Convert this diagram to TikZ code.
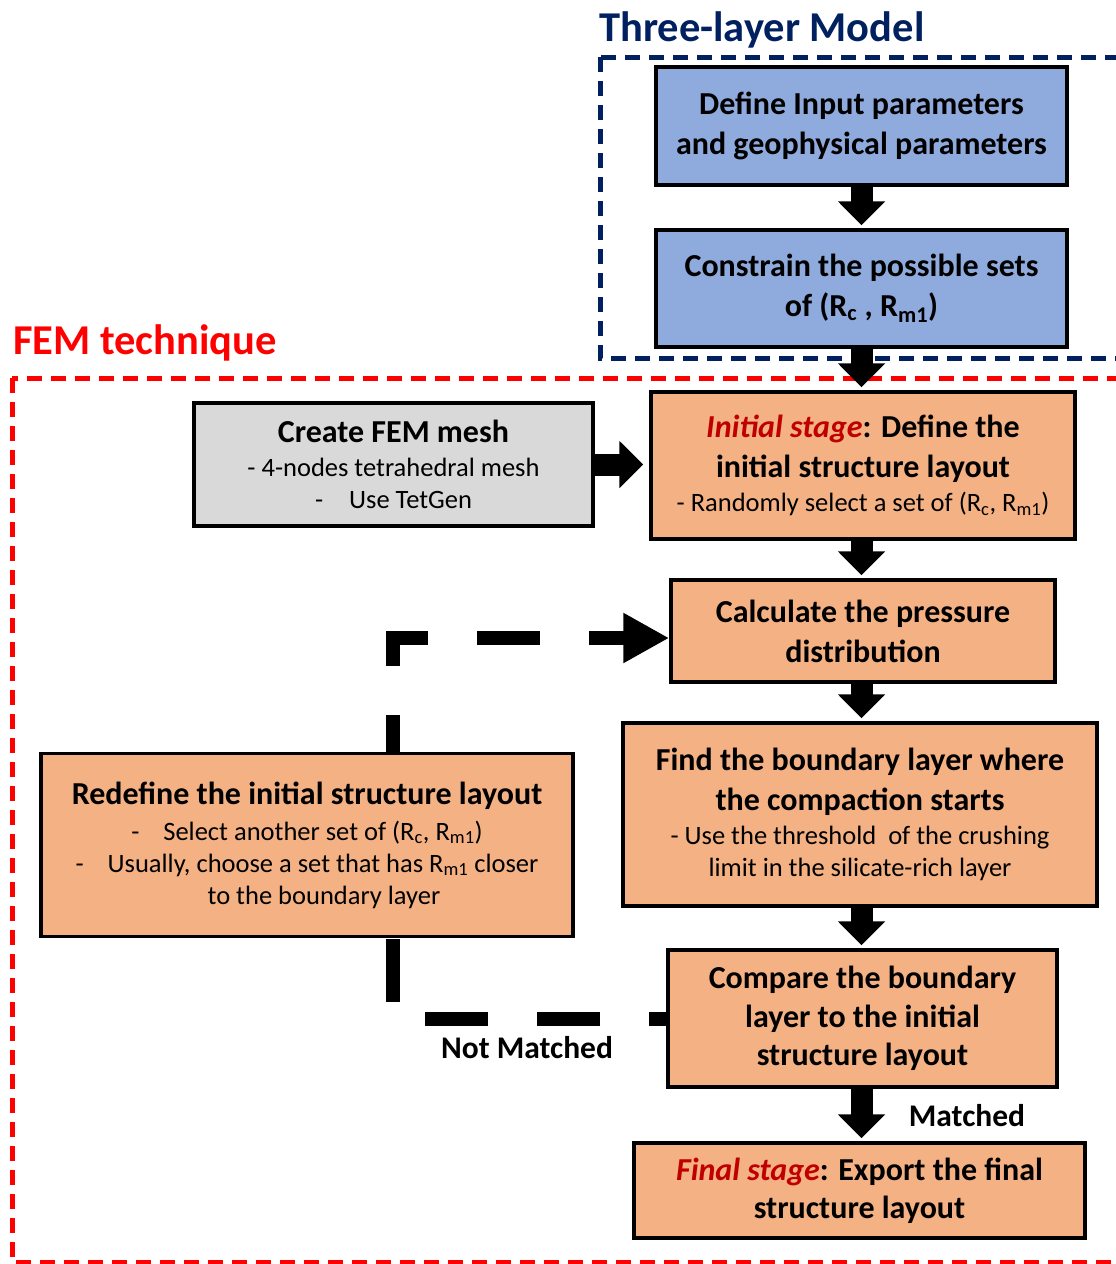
\documentclass[tikz,border=0pt]{standalone}
\usepackage{fontspec}
\setmainfont{Carlito}
\usetikzlibrary{arrows.meta}
\definecolor{boxblue}{HTML}{8FAADC}
\definecolor{boxorange}{HTML}{F4B183}
\definecolor{boxgray}{HTML}{D9D9D9}
\definecolor{navy}{HTML}{002060}
\definecolor{darkred}{HTML}{C00000}
\definecolor{femred}{HTML}{FF0000}
\pgfdeclarelayer{bg}
\pgfsetlayers{bg,main}
\newcommand{\rg}[1]{{\fontsize{26.5}{26.5}\selectfont\mdseries #1}}
\newcommand{\ist}[1]{{\color{darkred}\itshape #1}}
\begin{document}
\begin{tikzpicture}[x=1pt,y=-1pt,
  box/.style={draw=black, line width=3.5pt, align=center, inner sep=0pt,
    font=\fontsize{32}{40}\selectfont\bfseries},
  bluebox/.style={box, fill=boxblue},
  orangebox/.style={box, fill=boxorange},
  graybox/.style={box, fill=boxgray},
  blk/.style={line width=22pt, -{Triangle[width=46pt,length=24pt]}, shorten >=3pt},
  loopline/.style={line width=14pt, dash pattern=on 63pt off 49pt, dash phase=46pt,
    -{Triangle[width=47pt,length=46pt]}},
  frame/.style={line width=5pt, dash pattern=on 15pt off 9pt},
  lbl/.style={font=\fontsize{31.5}{34}\selectfont\bfseries, inner sep=0pt},
  title/.style={font=\fontsize{42.5}{46}\selectfont\bfseries, inner sep=0pt, anchor=west}]
\useasboundingbox (0,0) rectangle (1116,1264);

% titles
\node[title, text=navy] (t3) at (599,30) {Three-layer Model};
\node[title, text=femred] (tf) at (13,343) {FEM technique};

% boxes
\node[bluebox, minimum width=411pt, minimum height=118pt] (b1) at (861.5,126)
  {Define Input parameters\\and geophysical parameters};
\node[bluebox, minimum width=411pt, minimum height=117pt] (b2) at (861.5,288.5)
  {Constrain the possible sets\\of (R\textsubscript{c} , R\textsubscript{m1})};
\node[graybox, minimum width=399pt, minimum height=123pt] (mesh) at (393.5,464.5)
  {Create FEM mesh\\[-6pt]\rg{- 4-nodes tetrahedral mesh}\\[-8pt]\rg{-\hspace{26pt}Use TetGen}};
\node[orangebox, minimum width=424pt, minimum height=147pt] (init) at (863,465.5)
  {\ist{Initial stage}: Define the\\initial structure layout\\[-6pt]\rg{- Randomly select a set of (R\textsubscript{c}, R\textsubscript{m1})}};
\node[orangebox, minimum width=384pt, minimum height=102pt] (calc) at (863,631)
  {Calculate the pressure\\distribution};
\node[orangebox, minimum width=474pt, minimum height=183pt] (find) at (860,814.5)
  {Find the boundary layer where\\the compaction starts\\[-6pt]\rg{- Use the threshold\ \ of the crushing}\\[-8pt]\rg{limit in the silicate-rich layer}};
\node[orangebox, minimum width=389pt, minimum height=137pt] (cmp) at (862.5,1018.5)
  {Compare the boundary\\[-1pt]layer to the initial\\[-2pt]structure layout};
\node[orangebox, minimum width=451pt, minimum height=95pt] (fin) at (859.5,1190.5)
  {\ist{Final stage}: Export the final\\[-2pt]structure layout};
\node[orangebox, minimum width=532pt, minimum height=183pt] (redef) at (307,845)
  {Redefine the initial structure layout\\[-4pt]\rg{-\hspace{24pt}Select another set of (R\textsubscript{c}, R\textsubscript{m1})}\\[-8pt]\rg{-\hspace{24pt}Usually, choose a set that has R\textsubscript{m1} closer}\\[-8pt]\rg{\hspace*{34pt}to the boundary layer}};

% labels
\node[lbl] (nm) at (527,1048) {Not Matched};
\node[lbl] (m) at (967,1116) {Matched};

% background frames and loop
\coordinate (loopx) at (393,1017);
\begin{pgfonlayer}{bg}
  \draw[frame, draw=navy] (600,57) rectangle (1135,358);
  \draw[frame, draw=femred] (12,378) rectangle (1135,1262);
  \draw[loopline] (cmp.west) -- (cmp.west -| loopx) |- ([yshift=-7pt]calc.west);
\end{pgfonlayer}

% block arrows
\draw[blk] (b1.south) -- (b1.south |- b2.north);
\draw[blk] (b2.south) -- (b2.south |- init.north);
\draw[blk] (init.south -| b2.south) -- (b2.south |- calc.north);
\draw[blk] (calc.south -| b2.south) -- (b2.south |- find.north);
\draw[blk] (find.south -| b2.south) -- (b2.south |- cmp.north);
\draw[blk] (cmp.south -| b2.south) -- (b2.south |- fin.north);
\draw[blk] (mesh.east) -- ([xshift=-3pt]init.west |- mesh.east);
\end{tikzpicture}
\end{document}
